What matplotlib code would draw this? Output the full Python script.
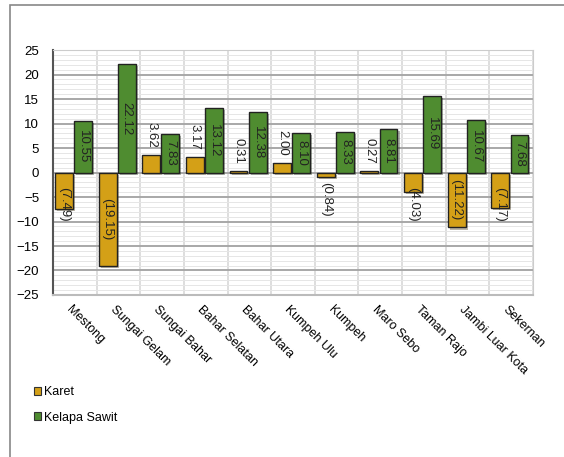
import numpy as np
import matplotlib.pyplot as plt
import matplotlib.patheffects as pe
from matplotlib.patches import Rectangle

plt.rcParams['font.family'] = ['Liberation Sans', 'DejaVu Sans']

kecamatan = ['Mestong', 'Sungai Gelam', 'Sungai Bahar', 'Bahar Selatan', 'Bahar Utara',
             'Kumpeh Ulu', 'Kumpeh', 'Maro Sebo', 'Taman Rajo', 'Jambi Luar Kota', 'Sekernan']
karet = [-7.49, -19.15, 3.62, 3.17, 0.31, 2.00, -0.84, 0.27, -4.03, -11.22, -7.17]
sawit = [10.55, 22.12, 7.83, 13.12, 12.38, 8.10, 8.33, 8.81, 15.69, 10.67, 7.68]

c_karet = '#D4A017'
c_sawit = '#4F8C30'

def fmt(v):
    return '(%.2f)' % abs(v) if v < 0 else '%.2f' % v

fig = plt.figure(figsize=(5.64, 4.57), dpi=100)
ax = fig.add_axes([0.094, 0.3545, 0.851, 0.536])

x = np.arange(len(kecamatan))
w = 0.41
shadow = [pe.SimplePatchShadow(offset=(1.5, -1.5), alpha=0.35), pe.Normal()]
b1 = ax.bar(x - 0.2, karet, w, color=c_karet, edgecolor='#222222', linewidth=1, zorder=3)
b2 = ax.bar(x + 0.24, sawit, w, color=c_sawit, edgecolor='#222222', linewidth=1, zorder=3)
for b in list(b1) + list(b2):
    b.set_path_effects(shadow)

# data labels, rotated like the original
for xi, v in zip(x, karet):
    if abs(v) > 10:
        ax.text(xi - 0.2, v / 2, fmt(v), rotation=270, ha='center', va='center',
                fontsize=9.5, color='#222222', zorder=4)
    elif v < 0:
        ax.text(xi - 0.2, max(v - 1, -3), fmt(v), rotation=270, ha='center', va='top',
                fontsize=9.5, color='#222222', zorder=4)
    else:
        ax.text(xi - 0.2, v + 1.5, fmt(v), rotation=270, ha='center', va='bottom',
                fontsize=9.5, color='#222222', zorder=4)
for xi, v in zip(x, sawit):
    ax.text(xi + 0.24, v / 2, fmt(v), rotation=270, ha='center', va='center',
            fontsize=9.5, color='#222222', zorder=4)

ax.set_xlim(-0.45, len(kecamatan) - 0.45)
ax.set_ylim(-25, 25)
ax.set_yticks(np.arange(-25, 26, 5))
ax.set_yticks(np.arange(-25, 26, 1), minor=True)
ax.tick_params(axis='y', which='both', length=0, labelsize=9.5, pad=10)
ax.set_xticks(x)
ax.set_xticks(np.arange(len(kecamatan) + 1) - 0.45, minor=True)
ax.set_xticklabels(kecamatan, rotation=-45, ha='left', va='top', rotation_mode='anchor', fontsize=9)
ax.tick_params(axis='x', which='both', length=0, pad=6)

ax.grid(axis='y', which='major', color='#a8a8a8', linewidth=1.4, zorder=0)
ax.grid(axis='y', which='minor', color='#e6e6e6', linewidth=0.7, zorder=0)
ax.grid(axis='x', which='minor', color='#d8d8d8', linewidth=1.2, zorder=0)
ax.set_axisbelow(True)
for s in ['top', 'right']:
    ax.spines[s].set_color('#cccccc')
ax.spines['left'].set_color('#555555')
ax.spines['left'].set_linewidth(1.5)
ax.spines['bottom'].set_color('#bbbbbb')
ax.spines['bottom'].set_linewidth(1.5)

# legend at bottom left
handles = [Rectangle((0, 0), 1, 1, facecolor=c, edgecolor='#333333', linewidth=0.8)
           for c in (c_karet, c_sawit)]
fig.legend(handles, ['Karet', 'Kelapa Sawit'], loc='upper left', bbox_to_anchor=(0.04, 0.18),
           frameon=False, fontsize=9, handlelength=0.6, handleheight=0.6, handletextpad=0.2,
           labelspacing=1.1)

# outer frame of the original screenshot
fig.patches.append(Rectangle((10 / 564, -0.1), 1.2, 1 - 5 / 457 + 0.1, transform=fig.transFigure,
                             fill=False, edgecolor='#888888', linewidth=1.2))

fig.savefig('out.png', dpi=100)
